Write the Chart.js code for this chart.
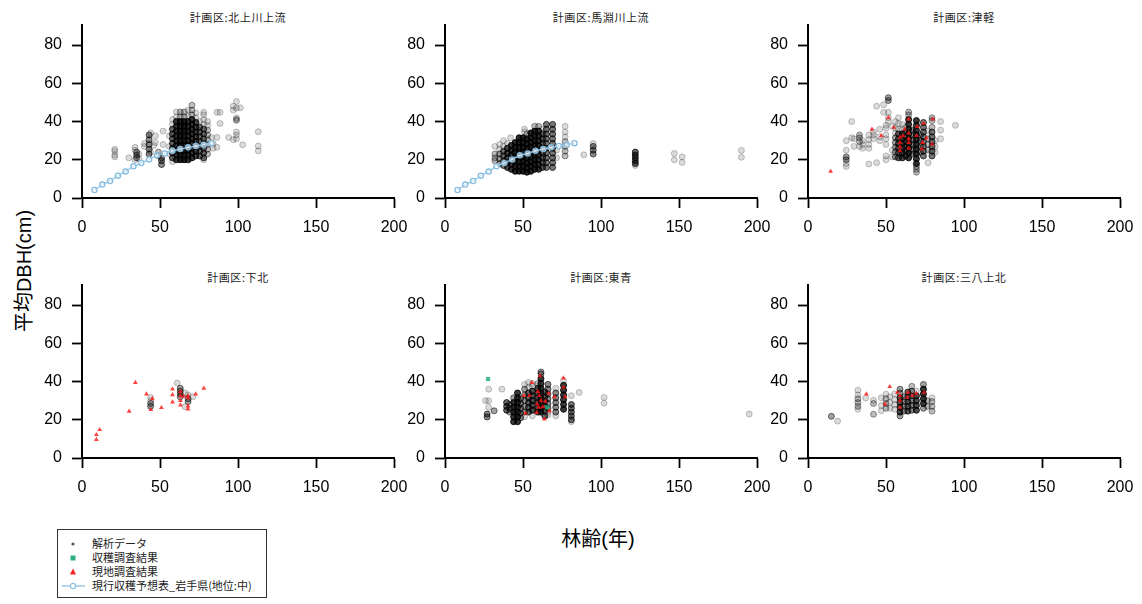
<!DOCTYPE html>
<html>
<head>
<meta charset="utf-8">
<script src="https://cdn.jsdelivr.net/npm/chart.js@4.4.1/dist/chart.umd.min.js"></script>
<style>
  body { margin: 0; background: #fff; width: 1142px; height: 604px; position: relative; overflow: hidden; }
  canvas { position: absolute; }
  .ptitle { position: absolute; width: 312px; text-align: center; font: 11px "Noto Sans CJK JP", sans-serif; letter-spacing: 0.6px; color: #222; line-height: 12px; }
  .xtitle { position: absolute; left: 598px; top: 537px; transform: translate(-50%, -50%); font: 20px "Liberation Sans", "Noto Sans CJK JP", sans-serif; white-space: nowrap; }
  .ytitle { position: absolute; left: 22px; top: 271px; transform: translate(-50%, -50%) rotate(-90deg); font: 20px "Liberation Sans", "Noto Sans CJK JP", sans-serif; white-space: nowrap; }
  .legend { position: absolute; left: 57px; top: 529px; width: 210px; height: 69px; border: 1px solid #333; box-sizing: border-box; }
  .legend .row { position: absolute; left: 0; height: 14px; width: 100%; }
  .legend svg { position: absolute; left: 3px; top: 0; }
  .legend span { position: absolute; left: 34px; top: -1px; font: 11px "Noto Sans CJK JP", sans-serif; color: #222; white-space: nowrap; line-height: 14px; }
</style>
</head>
<body>
<div class="xtitle">林齢(年)</div>
<div class="ytitle">平均DBH(cm)</div>
<div class="legend">
  <div class="row" style="top:7px"><svg width="30" height="14"><circle cx="12" cy="7" r="1.6" fill="#555"/></svg><span>解析データ</span></div>
  <div class="row" style="top:21px"><svg width="30" height="14"><rect x="9.5" y="4.5" width="5" height="5" fill="#2fb08a"/></svg><span>収穫調査結果</span></div>
  <div class="row" style="top:35px"><svg width="30" height="14"><polygon points="12,3.5 15,9.5 9,9.5" fill="#f22"/></svg><span>現地調査結果</span></div>
  <div class="row" style="top:49px"><svg width="30" height="14"><line x1="1" y1="7" x2="24" y2="7" stroke="#9cc8e6" stroke-width="1.5"/><circle cx="12" cy="7" r="2.6" fill="#fff" stroke="#8cbfe2" stroke-width="1.2"/></svg><span>現行収穫予想表_岩手県(地位:中)</span></div>
</div>
<script>
// 現行収穫予想表 (岩手県, 地位:中)
const yieldAge = [8, 13, 18, 23, 28, 33, 38, 43, 48, 53, 58, 63, 68, 73, 78, 83];
const yieldDbh = [4.2, 7.0, 8.9, 11.7, 13.8, 16.6, 18.3, 20.2, 22.3, 23.3, 24.7, 25.6, 26.5, 27.2, 27.9, 28.7];

const xTicks = [0, 50, 100, 150, 200];
const yTicks = [0, 20, 40, 60, 80];

// 解析データ: [林齢, 重なりの件数, [平均DBH...]]
const kitakamiCols = [
  [21, 1, [21.5, 22.5, 24.5, 25.5]], [30, 1, [21]], [34, 1, [20, 25, 26.5]], [35, 3, [21, 22.5, 24]],
  [36.5, 1, [20.5, 23]], [40, 1, [27, 28.5]], [43, 4, [23, 25.5, 28, 30.5, 33]], [44, 1, [24, 34]],
  [46, 1, [27.5]], [47, 1, [29, 32.5]], [49, 2, [22, 24]], [51, 4, [17.5, 19.5, 21]], [52, 1, [35, 28]],
  [56, 1, [23, 27, 32.5]],
  [58, 6, [21, 23.5, 26, 28.5, 31, 33.5, 36]], [58, 1, [19, 38.5, 41]],
  [60.5, 10, [20, 22.5, 25, 27.5, 30, 32.5, 35, 37.5, 40]], [60.5, 1, [42.5, 45]],
  [63, 12, [20, 22.5, 25, 27.5, 30, 32.5, 35, 37.5, 40]], [63, 2, [42.5, 45]],
  [65.5, 12, [20, 22.5, 25, 27.5, 30, 32.5, 35, 37.5, 40]], [65.5, 2, [42.5, 45]],
  [68, 10, [20, 22.5, 25, 27.5, 30, 32.5, 35, 37.5, 40]], [68, 1, [43, 46]],
  [70.5, 10, [21, 23.5, 26, 28.5, 31, 33.5, 36, 38.5, 41]], [70.5, 2, [43.5, 46, 48.5]],
  [73, 8, [22, 24.5, 27, 29.5, 32, 34.5, 37, 39.5]], [73, 1, [42, 44.5]],
  [75.5, 5, [22, 24.5, 27, 29.5, 32, 34.5, 37]], [75.5, 1, [40]],
  [78, 5, [21, 23.5, 26, 28.5, 31, 33.5, 36]], [78, 1, [20, 38.5, 41, 43.5, 44.8]],
  [80.5, 2, [23, 25.5, 28, 30.5, 33, 35.5]], [80.5, 1, [38, 40]],
  [83, 1, [31.7]], [84, 1, [26, 28.5]], [86.5, 1, [26.5, 31.7, 44.8]], [88.5, 1, [39, 44.8]],
  [94, 1, [31.7]], [97, 1, [30.5, 46, 48]], [99, 1, [31, 33, 34.5, 40.5, 42, 47, 50.5]], [99, 2, [41]],
  [101.5, 1, [47.2]], [103, 1, [27.8]], [113, 1, [24.7, 27.2, 34.7]]
];

const mabechiCols = [
  [32, 2, [19.5, 21, 23]], [32, 1, [27]], [35, 3, [18, 20.5, 23]], [35, 1, [25.5, 28]],
  [37.5, 5, [17, 19.5, 22, 24.5]], [37.5, 1, [27, 30]],
  [40, 8, [16, 18.5, 21, 23.5, 26]], [40, 1, [28.5]], [42, 1, [31.5]],
  [42.5, 10, [15, 17.5, 20, 22.5, 25, 27.5]],
  [45, 12, [14, 16.5, 19, 21.5, 24, 26.5, 29]],
  [47.5, 12, [14, 16.5, 19, 21.5, 24, 26.5, 29, 31.5]],
  [50, 12, [14, 16.5, 19, 21.5, 24, 26.5, 29, 31.5]], [51, 1, [34.5, 36]],
  [52.5, 12, [13.5, 16, 18.5, 21, 23.5, 26, 28.5, 31]], [52.5, 2, [33.5]],
  [55, 12, [14, 16.5, 19, 21.5, 24, 26.5, 29, 31.5, 34]],
  [57.5, 12, [15, 17.5, 20, 22.5, 25, 27.5, 30, 32.5, 35]], [57.5, 2, [37.5]],
  [60, 10, [15, 17.5, 20, 22.5, 25, 27.5, 30, 32.5, 35]], [60, 2, [37.5]],
  [62.5, 6, [16, 18.5, 21, 23.5, 26, 28.5, 31, 33.5]], [62.5, 1, [36]],
  [65, 5, [16, 18.5, 21, 23.5, 26, 28.5, 31, 33.5, 36, 38.5]],
  [69, 5, [16, 18.5, 21, 23.5, 26, 28.5, 31, 33.5, 36, 38.5]],
  [71.5, 1, [21, 25]],
  [77, 2, [22, 24.5, 27, 29.5]], [77, 1, [32, 34.5, 37.5]],
  [89, 1, [22.6]], [95, 4, [23, 25, 27]], [95, 1, [28.5]],
  [122, 6, [18, 19.5, 21, 22.5, 24]], [122, 1, [17]],
  [147, 1, [20, 23.3]], [152, 1, [18.6, 21.5]], [190, 1, [21.3, 24.9]]
];

const tsugaruCols = [
  [24.5, 1, [16.5, 18, 25, 30]], [24.5, 3, [20, 21.5]], [28, 1, [31.5, 40]], [29.5, 1, [27, 31]],
  [33, 2, [29.5, 31.5, 33]], [33, 1, [27]], [35, 1, [26, 28, 30]], [39, 1, [17.8, 26, 28, 30.5, 33]],
  [42, 1, [31, 33, 34.5]], [44, 1, [18.5, 48]], [46, 1, [30, 32, 36]], [48.5, 1, [44.8, 48.8]],
  [50, 1, [20, 22, 28, 31, 33, 36.5, 38]], [51.5, 3, [51, 52.5]], [51.5, 1, [40, 42, 44.8]],
  [54, 1, [21.5, 25, 37.5]],
  [56, 3, [21.5, 24, 26.5, 29, 31.5]], [56, 1, [34, 36.5, 40]],
  [58, 6, [21, 23.5, 26, 28.5, 31, 33.5]], [58, 1, [36, 39, 42]],
  [60.5, 8, [21, 23.5, 26, 28.5, 31, 33.5]], [60.5, 1, [36, 38.5]],
  [62.5, 5, [22, 24.5, 27, 29.5, 32, 34.5]], [62.5, 1, [37]],
  [64.5, 10, [21, 23.5, 26, 28.5, 31, 33.5, 36, 38.5, 41]], [64.5, 2, [43.5, 45]],
  [67, 4, [23, 25.5, 28, 30.5, 33, 35.5]],
  [69.5, 10, [18, 20.5, 23, 25.5, 28, 30.5, 33, 35.5, 38, 40.5]], [69.5, 2, [13.5, 15, 16.5]],
  [72, 3, [24, 27, 30, 33]],
  [74, 5, [22, 24.5, 27, 29.5, 32, 34.5, 37, 39.5]],
  [77, 2, [25, 28, 31]], [77, 1, [18.5, 35]],
  [79.5, 5, [22, 24.5, 27, 29.5, 32, 34.5]], [79.5, 2, [37, 40.5, 42]],
  [81.5, 1, [24, 27, 30]], [85, 1, [31, 35.5, 40]], [94.5, 1, [38]]
];

const shimokitaCols = [
  [44, 3, [27, 28.5]], [44, 1, [30, 31.7]], [61, 1, [39.2]], [63, 3, [32, 33.5, 35, 36.5]],
  [66, 1, [26.8, 34]], [68, 3, [29.5, 31]], [68, 1, [33]], [71, 1, [32]]
];

const toseiCols = [
  [26, 1, [30]], [28, 1, [26.5, 30, 36]], [27, 4, [21.5, 23]], [31.5, 3, [24.7]], [36.5, 1, [36]],
  [39.5, 6, [25, 27, 29]], [41.5, 3, [24, 26, 28]],
  [44, 10, [19, 21.5, 24, 26.5, 29]], [44, 3, [31.5]],
  [46.5, 10, [19, 21.5, 24, 26.5, 29, 31.5, 34]],
  [48.5, 4, [21, 23.5, 26, 28.5, 31]],
  [51, 3, [24, 27, 30, 33, 36]], [51, 1, [21.5, 38.5]],
  [53.5, 6, [24, 26.5, 29, 31.5, 34]], [53.5, 1, [37, 39.5]],
  [56, 8, [25, 27.5, 30, 32.5, 35]], [56, 1, [22, 37.5, 39]],
  [59.5, 8, [24, 26.5, 29, 31.5, 34, 36.5]], [59.5, 2, [39]],
  [61.5, 10, [24, 26.5, 29, 31.5, 34, 36.5, 39, 41.5]], [61.5, 3, [44, 45]],
  [64, 6, [22, 24.5, 27, 29.5, 32, 34.5]],
  [66, 4, [26, 28.5, 31, 33.5, 36, 38.5]], [66, 1, [22.5, 24]],
  [71, 4, [24, 26.5, 29, 31.5, 34]], [71, 1, [22, 36.5]],
  [76, 10, [25.5, 28, 30.5, 33, 35.5, 38]], [76, 1, [40.5]],
  [81, 5, [20, 22, 24, 26, 28]], [81, 1, [19, 32.6]],
  [86, 1, [34.3]], [102, 1, [28.7, 31.7]], [195, 1, [23]]
];

const sanpachiCols = [
  [15, 3, [21.8]], [19, 1, [19.3]], [32, 2, [27, 29, 31]], [32, 1, [25.5, 33, 35.5]], [37, 1, [31.4]],
  [42, 2, [22.9, 28.5]], [42, 1, [30.2]], [47, 1, [24.7, 27.5, 31.5]],
  [50, 2, [26, 28.5, 31]], [50, 1, [33.4]], [52.5, 1, [26, 29, 32]], [55.5, 1, [25.5, 28, 30.5, 33.5]],
  [59, 8, [24, 26.5, 29, 31.5]], [59, 3, [22, 34, 36]],
  [61.5, 3, [24.5, 27, 29.5, 32]],
  [64, 6, [24.5, 27, 29.5, 32, 34.5]],
  [66.5, 4, [25, 27.5, 30, 32.5, 35]], [66.5, 2, [37.5]],
  [69.5, 8, [25, 27.5, 30, 32.5]], [69.5, 1, [35]],
  [74, 10, [28.5, 31, 33.5, 36]], [74, 3, [26, 38.5]],
  [76.5, 2, [27, 30]], [79.5, 2, [24.5, 27, 29.5]], [79.5, 1, [31.5]]
];

// 現地調査結果: [林齢, 平均DBH]
const tsugaruField = [
  [14.5, 13.9], [41, 35.9], [47, 32.6], [51.5, 42], [55, 36.9], [59, 31.7], [59, 29], [59, 26.8], [59, 24.7],
  [61, 32.6], [62, 36], [64.5, 41.3], [64.5, 34], [64.5, 31], [64.5, 29], [64.5, 26], [70, 37.3], [69.5, 32.6],
  [74, 39], [73.5, 29], [73, 25.6], [76, 31.4], [80, 41.3], [79.5, 28.2]
];
const shimokitaField = [
  [9.2, 9.6], [9.2, 12.2], [11.3, 14.8], [30.2, 24.4], [34.2, 39.5], [41.3, 33.4], [45.1, 31], [44.1, 25.3],
  [50.9, 26.3], [58, 36.1], [58, 33.1], [58, 29.3], [63.1, 34.8], [63.1, 32.6], [63.1, 30], [63.1, 27.7],
  [65.2, 32.2], [68, 32.6], [68, 31.4], [68, 27.2], [68, 25.6], [72.9, 33.4], [78.1, 36.4]
];
const toseiField = [
  [50.5, 32.6], [51.6, 23.3], [55.8, 39.5], [54.1, 32.6], [61, 43], [59.5, 34.8], [60.5, 32.6], [61.6, 30],
  [59, 28.2], [60.1, 26.5], [62.7, 26.8], [64.4, 29.6], [58.8, 23.7], [63.7, 20.4], [66.5, 33.8], [67, 24.7],
  [75.9, 41.8], [75.9, 36.9], [77, 32], [70.2, 32]
];
const sanpachiField = [
  [37.4, 33.4], [52.4, 37.3], [49.4, 28.2], [57.3, 34.3], [59, 32.6], [59, 30], [59, 26.5], [64.1, 34.3],
  [63.7, 31.7], [69.4, 33.8], [74.4, 34.3], [66.9, 32.6]
];

// 収穫調査結果
const toseiHarvest = [[27.6, 41.3], [65.5, 26.5]];

const panels = [
  { title: "計画区:北上川上流", cols: kitakamiCols, field: [], harvest: [], yieldLine: true, col: 0, row: 0 },
  { title: "計画区:馬淵川上流", cols: mabechiCols, field: [], harvest: [], yieldLine: true, col: 1, row: 0 },
  { title: "計画区:津軽", cols: tsugaruCols, field: tsugaruField, harvest: [], yieldLine: false, col: 2, row: 0 },
  { title: "計画区:下北", cols: shimokitaCols, field: shimokitaField, harvest: [], yieldLine: false, col: 0, row: 1 },
  { title: "計画区:東青", cols: toseiCols, field: toseiField, harvest: toseiHarvest, yieldLine: false, col: 1, row: 1 },
  { title: "計画区:三八上北", cols: sanpachiCols, field: sanpachiField, harvest: [], yieldLine: false, col: 2, row: 1 }
];

const plotLeft = [82, 445, 808];
const plotTop = [25, 285];
const plotW = 312, plotH = 173;
const padL = 60, padT = 25, padR = 25, padB = 45;

const tickFont = { family: "Liberation Sans, Arial, sans-serif", size: 16 };

function axis(min, max, ticks, fit) {
  return {
    type: "linear", min: min, max: max,
    afterBuildTicks: s => { s.ticks = ticks.map(v => ({ value: v })); },
    ticks: { color: "#000", font: tickFont, padding: 10, maxRotation: 0, autoSkip: false },
    grid: { display: true, drawOnChartArea: false, drawTicks: true, tickLength: 10, tickWidth: 1.8, tickColor: "#000" },
    border: { display: true, color: "#000", width: 2 },
    afterFit: fit
  };
}

panels.forEach(p => {
  const left = plotLeft[p.col] - padL;
  const top = plotTop[p.row] - padT;

  const t = document.createElement("div");
  t.className = "ptitle";
  t.textContent = p.title;
  t.style.left = plotLeft[p.col] + "px";
  t.style.top = (plotTop[p.row] - 14) + "px";
  document.body.appendChild(t);

  const canvas = document.createElement("canvas");
  canvas.width = padL + plotW + padR;
  canvas.height = padT + plotH + padB;
  canvas.style.left = left + "px";
  canvas.style.top = top + "px";
  document.body.appendChild(canvas);

  const analysis = p.cols.flatMap(([age, n, vals]) => vals.map(v => ({ x: age, y: v, n: n })));

  const datasets = [];
  if (p.yieldLine) {
    datasets.push({
      type: "line", data: yieldAge.map((a, i) => ({ x: a, y: yieldDbh[i] })),
      borderColor: "#9cc8e6", borderWidth: 1.4, pointStyle: "circle", pointRadius: 2.6,
      pointBackgroundColor: "rgba(255,255,255,0.6)", pointBorderColor: "#86bce0", pointBorderWidth: 1.3,
      showLine: true, fill: false, tension: 0
    });
  }
  datasets.push({
    data: p.field.map(([a, d]) => ({ x: a, y: d })),
    pointStyle: "triangle", pointRadius: 2.8, backgroundColor: "rgba(255,20,20,0.8)", borderWidth: 0
  });
  datasets.push({
    data: p.harvest.map(([a, d]) => ({ x: a, y: d })),
    pointStyle: "rect", pointRadius: 3, backgroundColor: "rgba(40,175,135,0.85)", borderWidth: 0
  });
  datasets.push({
    data: analysis, pointStyle: "circle", pointRadius: 3,
    backgroundColor: ctx => "rgba(0,0,0," + (1 - Math.pow(0.86, ctx.raw ? ctx.raw.n : 1)).toFixed(3) + ")",
    borderColor: ctx => "rgba(0,0,0," + (1 - Math.pow(0.78, ctx.raw ? ctx.raw.n : 1)).toFixed(3) + ")",
    borderWidth: 1
  });

  new Chart(canvas, {
    type: "scatter",
    data: { datasets: datasets },
    options: {
      responsive: false,
      animation: false,
      layout: { padding: { left: 0, top: padT, right: padR, bottom: 0 } },
      plugins: { legend: { display: false }, tooltip: { enabled: false } },
      scales: {
        x: axis(0, 200, xTicks, s => { s.height = padB; }),
        y: axis(0, 90.5, yTicks, s => { s.width = padL; })
      }
    }
  });
});
</script>
</body>
</html>
